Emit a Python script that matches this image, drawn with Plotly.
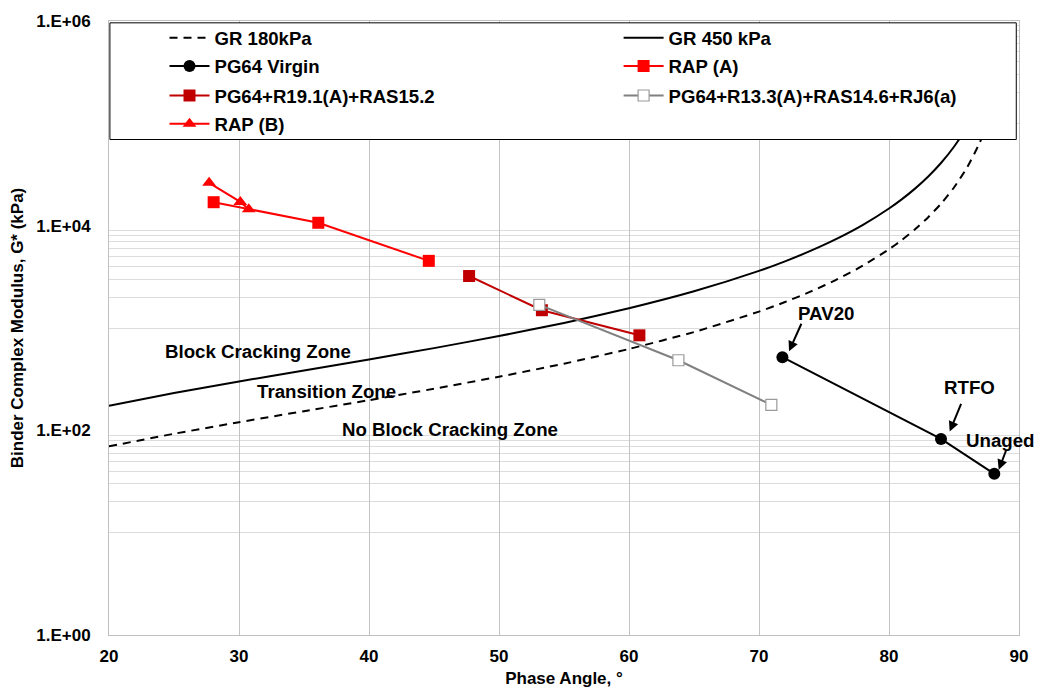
import math
import plotly.graph_objects as go

# ---------------- data ----------------
phase_gr = [20, 25, 30, 35, 40, 45, 50, 55, 60, 65, 70, 72, 74, 76, 78, 80, 81, 82, 83, 84, 85, 86, 87, 88]
gstar_gr180 = [69.7, 92.6, 120, 154, 197, 255, 334, 448, 624, 913, 1446, 1793, 2277, 2984, 4073, 5879,
               7265, 9203, 12030, 16380, 23610, 36900, 65630, 147700]
gstar_gr450 = [174, 232, 300, 385, 493, 636, 834, 1120, 1559, 2283, 3615, 4482, 5693, 7460, 10180, 14700,
               18160, 23010, 30080, 40940, 59020, 92260, 164100, 369200]

phase_virgin = [71.8, 84.0, 88.1]
gstar_virgin = [518, 82.4, 37.6]

phase_rap_a = [28.05, 36.1, 44.6]
gstar_rap_a = [16950, 10670, 4530]

phase_r19 = [47.7, 53.3, 60.8]
gstar_r19 = [3220, 1492, 848]

phase_r13 = [53.1, 63.8, 70.95]
gstar_r13 = [1683, 484, 177]

phase_rap_b = [27.7, 30.1, 30.75]
gstar_rap_b = [26200, 17060, 14500]

series_names = ["GR 180kPa", "GR 450 kPa", "PG64 Virgin", "RAP (A)",
                "PG64+R19.1(A)+RAS15.2", "PG64+R13.3(A)+RAS14.6+RJ6(a)", "RAP (B)"]

x_ticks = [20, 30, 40, 50, 60, 70, 80, 90]
y_tickvals = [1, 100, 10000, 1000000]
y_ticktext = ["1.E+00", "1.E+02", "1.E+04", "1.E+06"]

zone_labels = ["Block Cracking Zone", "Transition Zone", "No Block Cracking Zone"]
aging_labels = ["PAV20", "RTFO", "Unaged"]

# ---------------- figure ----------------
FONT = "Liberation Sans, Arial, sans-serif"
fig = go.Figure()

fig.add_trace(go.Scatter(x=phase_gr, y=gstar_gr180, mode="lines", name=series_names[0],
                         line=dict(color="black", width=2, dash="8px,6px", shape="spline", smoothing=0.5)))
fig.add_trace(go.Scatter(x=phase_gr, y=gstar_gr450, mode="lines", name=series_names[1],
                         line=dict(color="black", width=2, shape="spline", smoothing=0.5)))
fig.add_trace(go.Scatter(x=phase_virgin, y=gstar_virgin, mode="lines+markers", name=series_names[2],
                         line=dict(color="black", width=2),
                         marker=dict(symbol="circle", size=12, color="black")))
fig.add_trace(go.Scatter(x=phase_rap_a, y=gstar_rap_a, mode="lines+markers", name=series_names[3],
                         line=dict(color="#FF0000", width=2),
                         marker=dict(symbol="square", size=12, color="#FF0000")))
fig.add_trace(go.Scatter(x=phase_r19, y=gstar_r19, mode="lines+markers", name=series_names[4],
                         line=dict(color="#C00000", width=2),
                         marker=dict(symbol="square", size=12, color="#C00000")))
fig.add_trace(go.Scatter(x=phase_r13, y=gstar_r13, mode="lines+markers", name=series_names[5],
                         line=dict(color="#808080", width=2),
                         marker=dict(symbol="square", size=11, color="white",
                                     line=dict(color="#9A9A9A", width=1.2))))
fig.add_trace(go.Scatter(x=phase_rap_b, y=gstar_rap_b, mode="lines+markers", name=series_names[6],
                         line=dict(color="#FF0000", width=2),
                         marker=dict(symbol="triangle-up", size=12, color="#FF0000")))

# one legend per entry, laid out in two columns as in the reference
col_x = [0.061, 0.560]
row_y = [0.972, 0.926, 0.878, 0.832]
legend_layout = {}
for i, tr in enumerate(fig.data):
    key = "legend" if i == 0 else f"legend{i + 1}"
    tr.legend = key
    legend_layout[key] = dict(
        x=col_x[i % 2], y=row_y[i // 2], xanchor="left", yanchor="middle",
        bgcolor="rgba(0,0,0,0)", borderwidth=0, itemwidth=40,
        font=dict(family=FONT, size=18.6, color="black", weight="bold"),
    )

minor_vals = [m * 10 ** e for e in (1, 3, 5) for m in range(1, 10)]

fig.update_layout(
    width=1043, height=696,
    margin=dict(l=109, r=24, t=18, b=60),
    paper_bgcolor="white", plot_bgcolor="white",
    font=dict(family=FONT, size=17, color="black", weight="bold"),
    showlegend=True,
    **legend_layout,
)

fig.update_xaxes(
    range=[20, 90], tickvals=x_ticks, ticktext=[str(v) for v in x_ticks],
    showgrid=True, gridcolor="#C4C4C4", gridwidth=1,
    showline=True, linecolor="#BFBFBF", linewidth=1, mirror=True,
    zeroline=False, ticks="", ticklabelstandoff=6,
    tickfont=dict(family=FONT, size=17, color="black", weight="bold"),
    title=dict(text="Phase Angle, °", standoff=6,
               font=dict(family=FONT, size=17, color="black", weight="bold")),
)
fig.update_yaxes(
    type="log", range=[0, 6], tickvals=y_tickvals, ticktext=y_ticktext,
    showgrid=False,
    minor=dict(tickmode="array", tickvals=minor_vals, showgrid=True,
               gridcolor="#DCDCDC", gridwidth=1, ticks=""),
    showline=True, linecolor="#BFBFBF", linewidth=1, mirror=True,
    zeroline=False, ticks="", ticklabelstandoff=14,
    tickfont=dict(family=FONT, size=17, color="black", weight="bold"),
    title=dict(text="Binder Complex Modulus, G* (kPa)", standoff=8,
               font=dict(family=FONT, size=17, color="black", weight="bold")),
)

# legend box
fig.add_shape(type="rect", xref="paper", yref="paper", x0=0.001, x1=0.997, y0=0.807, y1=0.997,
              line=dict(color="black", width=1), fillcolor="white", layer="above")

# zone labels (annotation y on a log axis is given in log10 units)
zone_pos = [(31.44, 593), (36.7, 242), (46.23, 101)]
for txt, (zx, zy) in zip(zone_labels, zone_pos):
    fig.add_annotation(x=zx, y=math.log10(zy), yref="y", xref="x", text=txt, showarrow=False,
                       font=dict(family=FONT, size=18.7, color="black", weight="bold"))

# aging labels and arrows
text_pos = [(75.13, 1377), (86.21, 261), (88.58, 79.3)]
arrow_heads = [(72.31, 593), (84.67, 97.5), (88.44, 41.2)]
arrow_tails = [(13, -29), (12, -29), (8, -21)]
for txt, (tx, ty), (hx, hy), (ax, ay) in zip(aging_labels, text_pos, arrow_heads, arrow_tails):
    fig.add_annotation(x=tx, y=math.log10(ty), text=txt, showarrow=False,
                       font=dict(family=FONT, size=18.7, color="black", weight="bold"))
    fig.add_annotation(x=hx, y=math.log10(hy), text="", showarrow=True, ax=ax, ay=ay,
                       arrowhead=2, arrowsize=1, arrowwidth=2, arrowcolor="black", standoff=0)

fig.write_html("out.html", config={"displayModeBar": False},
               post_script="document.body.style.margin='0';document.body.style.overflow='hidden';")
